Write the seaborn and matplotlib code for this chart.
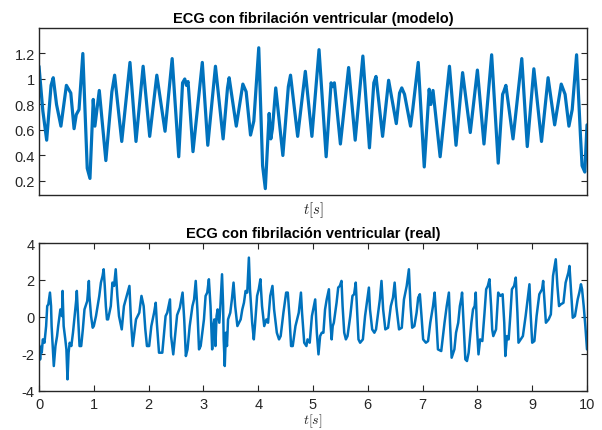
import numpy as np
import pandas as pd
import seaborn as sns
import matplotlib
matplotlib.use("Agg")
import matplotlib.pyplot as plt
from matplotlib.ticker import FuncFormatter

# ---------------- data ----------------
t_model = [0.00, 0.07, 0.14, 0.22, 0.26, 0.32, 0.40, 0.50, 0.58, 0.64, 0.68, 0.73,
           0.80, 0.88, 0.93, 0.99, 1.02, 1.10, 1.22, 1.33, 1.38, 1.51, 1.66, 1.77,
           1.90, 2.02, 2.15, 2.30, 2.43, 2.55, 2.62, 2.66, 2.69, 2.72, 2.81, 2.98,
           3.08, 3.22, 3.36, 3.44, 3.47, 3.60, 3.72, 3.78, 3.86, 3.92, 4.01, 4.08,
           4.13, 4.20, 4.23, 4.26, 4.32, 4.45, 4.55, 4.59, 4.72, 4.86, 4.98, 5.11,
           5.24, 5.33, 5.36, 5.39, 5.50, 5.65, 5.77, 5.91, 6.03, 6.11, 6.15, 6.27,
           6.38, 6.52, 6.58, 6.62, 6.67, 6.78, 6.82, 6.92, 7.03, 7.12, 7.15, 7.19,
           7.32, 7.49, 7.61, 7.73, 7.87, 8.00, 8.12, 8.26, 8.38, 8.46, 8.48, 8.52,
           8.65, 8.81, 8.91, 9.03, 9.17, 9.29, 9.41, 9.53, 9.60, 9.67, 9.73, 9.81,
           9.88, 9.91, 9.96, 10.00]
v_model = [1.10, 0.75, 0.52, 0.95, 1.01, 0.80, 0.63, 0.95, 0.89, 0.61, 0.72, 0.76,
           1.20, 0.30, 0.22, 0.84, 0.63, 0.91, 0.36, 0.90, 1.03, 0.51, 1.13, 0.51,
           1.10, 0.55, 1.03, 0.59, 1.16, 0.39, 0.97, 1.00, 0.95, 0.98, 0.43, 1.13,
           0.48, 1.10, 0.53, 0.93, 1.01, 0.63, 0.96, 0.90, 0.56, 0.67, 1.245, 0.32,
           0.14, 0.73, 0.53, 0.61, 0.93, 0.40, 0.94, 1.03, 0.55, 1.06, 0.55, 1.23,
           0.39, 0.97, 0.94, 0.97, 0.49, 1.09, 0.52, 1.18, 0.46, 0.97, 1.02, 0.55,
           0.99, 0.65, 0.89, 0.93, 0.88, 0.63, 0.76, 1.13, 0.31, 0.92, 0.80, 0.91,
           0.39, 1.10, 0.48, 1.05, 0.58, 1.07, 0.49, 1.19, 0.34, 0.88, 0.90, 0.95,
           0.53, 1.16, 0.47, 1.08, 0.51, 1.01, 0.64, 0.96, 0.88, 0.63, 0.76, 1.19,
           0.56, 0.32, 0.27, 0.64]

t_real = [0.00, 0.02, 0.04, 0.05, 0.07, 0.10, 0.13, 0.15, 0.17, 0.20, 0.22, 0.23,
          0.25, 0.27, 0.30, 0.33, 0.35, 0.39, 0.42, 0.43, 0.45, 0.48, 0.50, 0.52,
          0.54, 0.56, 0.59, 0.62, 0.65, 0.68, 0.69, 0.72, 0.74, 0.77, 0.80, 0.83,
          0.88, 0.91, 0.92, 0.95, 0.98, 1.00, 1.04, 1.10, 1.13, 1.16, 1.18, 1.20,
          1.22, 1.24, 1.26, 1.31, 1.34, 1.37, 1.40, 1.43, 1.46, 1.51, 1.55, 1.60,
          1.65, 1.68, 1.71, 1.77, 1.83, 1.87, 1.91, 1.94, 1.97, 2.01, 2.05, 2.10,
          2.13, 2.15, 2.19, 2.25, 2.31, 2.34, 2.39, 2.41, 2.45, 2.52, 2.57, 2.62,
          2.65, 2.68, 2.71, 2.75, 2.80, 2.83, 2.86, 2.89, 2.92, 2.95, 3.01, 3.04,
          3.07, 3.10, 3.13, 3.16, 3.18, 3.20, 3.22, 3.24, 3.26, 3.29, 3.31, 3.34,
          3.36, 3.37, 3.39, 3.41, 3.43, 3.45, 3.49, 3.52, 3.55, 3.58, 3.62, 3.65,
          3.68, 3.71, 3.74, 3.77, 3.80, 3.83, 3.85, 3.87, 3.89, 3.92, 3.94, 3.98,
          4.01, 4.04, 4.07, 4.11, 4.15, 4.18, 4.22, 4.26, 4.29, 4.34, 4.38, 4.41,
          4.46, 4.51, 4.54, 4.57, 4.60, 4.63, 4.68, 4.74, 4.78, 4.80, 4.84, 4.88,
          4.90, 4.94, 4.98, 5.04, 5.07, 5.10, 5.13, 5.16, 5.19, 5.22, 5.25, 5.29,
          5.31, 5.34, 5.36, 5.38, 5.43, 5.46, 5.49, 5.52, 5.54, 5.57, 5.60, 5.63,
          5.68, 5.72, 5.75, 5.78, 5.80, 5.83, 5.86, 5.91, 5.95, 5.99, 6.02, 6.04,
          6.08, 6.12, 6.15, 6.19, 6.22, 6.25, 6.28, 6.32, 6.37, 6.42, 6.46, 6.49,
          6.52, 6.57, 6.62, 6.66, 6.71, 6.75, 6.78, 6.81, 6.85, 6.89, 6.92, 6.95,
          6.98, 7.01, 7.06, 7.10, 7.14, 7.19, 7.22, 7.25, 7.28, 7.34, 7.40, 7.44,
          7.48, 7.50, 7.53, 7.58, 7.61, 7.65, 7.68, 7.71, 7.72, 7.75, 7.78, 7.81,
          7.84, 7.89, 7.92, 7.95, 7.97, 7.99, 8.02, 8.05, 8.09, 8.13, 8.16, 8.19,
          8.22, 8.25, 8.27, 8.29, 8.34, 8.38, 8.42, 8.46, 8.49, 8.51, 8.54, 8.57,
          8.60, 8.63, 8.67, 8.70, 8.73, 8.75, 8.79, 8.83, 8.88, 8.92, 8.95, 8.97,
          9.00, 9.04, 9.08, 9.13, 9.18, 9.20, 9.23, 9.25, 9.30, 9.34, 9.38, 9.41,
          9.43, 9.46, 9.49, 9.52, 9.57, 9.61, 9.66, 9.68, 9.71, 9.74, 9.78, 9.83,
          9.86, 9.89, 9.91, 9.94, 9.97, 10.00]
v_real = [-1.50, -2.30, -1.60, -1.93, -1.21, -1.39, -0.49, 0.59, 0.68, 1.32, 0.59, -0.49,
          -1.57, -2.65, -1.57, -1.03, -0.49, 0.41, 0.05, 1.41, -0.49, -1.21, -1.75, -3.37,
          -1.93, -1.39, -1.57, -0.85, 0.05, 0.95, 1.41, -0.31, -1.57, -1.57, -0.67, 0.41,
          0.86, 1.95, 1.14, 0.05, -0.58, -0.49, 0.05, 1.14, 1.86, 2.22, 2.58, 1.68,
          0.59, -0.13, -0.13, 0.59, 1.86, 1.68, 2.58, 1.14, 0.05, -0.67, 0.59, 1.14,
          1.68, -0.31, -1.57, -0.13, 0.23, 1.14, 0.59, -0.67, -1.57, -1.57, -0.49, 0.23,
          0.77, -0.31, -1.93, -1.93, 0.05, 0.23, 0.95, -1.03, -2.02, 0.10, 0.50, 1.32,
          -0.13, -2.11, -1.75, -0.49, 0.59, 0.95, 1.95, 0.41, -1.75, -1.57, -0.13, 1.14,
          1.32, 2.04, 0.59, -1.75, -0.49, -0.13, -1.57, 0.05, 0.41, -0.31, 0.59, 2.31,
          0.59, -1.21, -2.65, -0.85, -1.57, -0.13, 0.23, 0.95, 1.86, 0.59, -0.49, -0.31,
          -0.13, 0.41, 0.77, 1.41, 1.32, 3.21, 1.50, 0.59, -0.31, -1.21, -0.49, 1.14,
          1.50, 2.04, 0.59, -0.49, -0.13, -0.31, 1.14, 1.68, 0.41, -0.85, -1.21, -1.03,
          0.23, 1.32, 1.32, 0.05, -1.57, -1.57, -0.49, 0.23, 1.32, 0.23, -1.39, -1.57,
          -1.21, -1.39, 0.05, 0.95, -0.85, -2.02, -1.03, -0.85, -0.85, 0.41, 0.95, 1.50,
          0.05, -1.21, -0.49, -0.31, 0.77, 1.59, 1.68, 1.95, 0.59, -0.85, -1.21, -1.03,
          0.05, 1.14, 1.23, 1.86, 0.59, -1.21, -1.39, -1.21, 0.05, 0.95, 1.59, 0.41,
          -0.67, -0.85, -0.67, 0.23, 0.95, 1.95, 0.41, -0.67, -0.58, 0.59, 1.05, 1.86,
          0.59, -0.67, -0.58, 0.95, 1.68, 2.58, 0.59, -0.58, -0.49, 0.23, 1.05, 1.23,
          0.05, -1.21, -1.39, -1.30, -0.31, 0.59, 1.32, -0.13, -1.75, -1.84, -0.31, 0.59,
          1.32, -0.31, -2.20, -1.75, -0.85, -0.31, 0.59, 1.05, 1.32, -0.49, -2.29, -2.38,
          -1.93, -0.31, 0.41, 0.59, 1.32, -0.49, -2.02, -1.21, -1.30, 0.23, 1.50, 1.68,
          2.04, 0.59, -0.67, -1.03, -0.67, 1.32, 1.14, 1.23, -0.31, -2.11, -1.03, -1.21,
          0.05, 1.50, 1.68, 2.13, 0.23, -1.39, -1.21, -1.03, 0.05, 1.05, 1.77, 0.23,
          -1.39, -1.30, 0.05, 1.23, 1.50, 1.95, 0.59, -0.31, -0.13, 0.14, 2.22, 2.76,
          3.12, 1.68, 0.59, 0.68, 0.77, 1.86, 2.40, 2.76, 1.32, -0.04, 0.05, 0.95,
          1.32, 1.77, 1.50, 0.59, -0.50, -1.75]

title_top = "ECG con fibrilación ventricular (modelo)"
title_bottom = "ECG con fibrilación ventricular (real)"
xlabel = "$t[s]$"
yticks_top = [0.2, 0.4, 0.6, 0.8, 1.0, 1.2]
yticks_bottom = [-4, -2, 0, 2, 4]
xticks_bottom = [0, 1, 2, 3, 4, 5, 6, 7, 8, 9, 10]

# ---------------- style ----------------
sns.set_theme(style="white")
plt.rcParams["font.family"] = ["Liberation Sans", "DejaVu Sans"]
plt.rcParams["axes.unicode_minus"] = False
plt.rcParams["mathtext.fontset"] = "cm"

LINE = "#0072BD"
EDGE = "#262626"
TXT = "#262626"

df_model = pd.DataFrame({"t": t_model, "v": v_model})
df_real = pd.DataFrame({"t": t_real, "v": v_real})

fig = plt.figure(figsize=(6.02, 4.31), dpi=100)
ax1 = fig.add_axes([39 / 602, 1 - 196 / 431, (587 - 39) / 602, (196 - 29) / 431])
ax2 = fig.add_axes([39 / 602, 1 - 392 / 431, (587 - 39) / 602, (392 - 244) / 431])

sns.lineplot(data=df_model, x="t", y="v", ax=ax1, color=LINE, linewidth=2.3,
             estimator=None, sort=False, solid_joinstyle="round",
             solid_capstyle="round")
sns.lineplot(data=df_real, x="t", y="v", ax=ax2, color=LINE, linewidth=1.8,
             estimator=None, sort=False, solid_joinstyle="round",
             solid_capstyle="round")

fmt = FuncFormatter(lambda v, p: "%g" % round(v, 2))

for ax in (ax1, ax2):
    ax.set_xlim(0, 10)
    for s in ax.spines.values():
        s.set_color(EDGE)
        s.set_linewidth(1.0)
        s.set_visible(True)
    ax.tick_params(direction="in", length=4, width=0.8, color=EDGE,
                   labelcolor=TXT, labelsize=10.5, top=True, right=True,
                   left=True, bottom=True, pad=3)
    ax.set_ylabel("")
    ax.grid(False)

ax1.set_ylim(0.09, 1.40)
ax1.set_yticks(yticks_top)
ax1.yaxis.set_major_formatter(fmt)
ax1.set_xticks([])
ax1.set_title(title_top, fontsize=10.5, fontweight="bold", color="black", pad=4)
ax1.set_xlabel(xlabel, fontsize=10.5, color=TXT, labelpad=3)

ax2.set_ylim(-4, 4)
ax2.set_yticks(yticks_bottom)
ax2.yaxis.set_major_formatter(fmt)
ax2.set_xticks(xticks_bottom)
ax2.tick_params(axis="x", pad=4)
ax2.set_title(title_bottom, fontsize=10.5, fontweight="bold", color="black", pad=4)
ax2.set_xlabel(xlabel, fontsize=10, color=TXT, labelpad=1)

fig.savefig("out.png", dpi=100)
